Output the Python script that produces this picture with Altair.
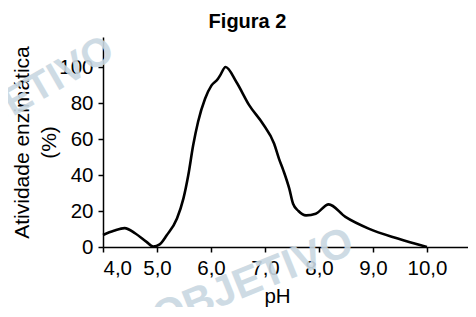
import altair as alt
import pandas as pd

ph = [4.0, 4.2, 4.4, 4.6, 4.8, 4.93, 5.05, 5.18, 5.37, 5.49, 5.58, 5.67, 5.76, 5.89,
      6.01, 6.13, 6.17, 6.27, 6.47, 6.71, 6.96, 7.17, 7.26, 7.34, 7.45, 7.52, 7.62,
      7.76, 7.94, 8.18, 8.49, 8.92, 9.46, 10.0]
atividade = [6.7, 9.0, 10.5, 7.5, 3.0, 0.3, 1.5, 6.5, 15.8, 27.0, 40.0, 56.5, 69.5,
             82.4, 89.8, 93.5, 95.4, 100.0, 91.7, 78.7, 68.5, 57.4, 49.0, 42.6, 32.4,
             24.0, 20.0, 17.6, 18.5, 23.7, 16.7, 10.2, 4.7, 0.0]
x_ticks = [4.0, 5.0, 6.0, 7.0, 8.0, 9.0, 10.0]
y_ticks = [0, 20, 40, 60, 80, 100]

df = pd.DataFrame({"ph": ph, "atividade": atividade})

W, H = 365, 210
FONT = "Liberation Sans"
WM = "#c9d8e2"

line = alt.Chart(df).mark_line(color="black", strokeWidth=2.6, interpolate="monotone").encode(
    x=alt.X("ph:Q",
            scale=alt.Scale(domain=[4, 10.76], nice=False, zero=False),
            axis=alt.Axis(values=x_ticks,
                          labelExpr="replace(format(datum.value, '.1f'), '.', ',')",
                          title="pH", titleFontWeight="normal", titleFontSize=20.5,
                          titleFont=FONT, titleColor="black",
                          titleX=174, titleY=55, titleBaseline="alphabetic",
                          labelFontSize=20.5, labelFont=FONT, labelColor="black",
                          labelPadding=6, tickSize=5, tickColor="black", tickWidth=1.5,
                          domainColor="black", domainWidth=1.5, grid=False,
                          labelOverlap=False)),
    y=alt.Y("atividade:Q",
            scale=alt.Scale(domain=[0, 116.7], nice=False),
            axis=alt.Axis(values=y_ticks,
                          title=["Atividade enzimática", "(%)"],
                          titleFontWeight="normal", titleFontSize=21,
                          titleFont=FONT, titleColor="black",
                          titleX=-92, titleBaseline="top", titleLineHeight=27,
                          titleAngle=270,
                          labelFontSize=20.5, labelFont=FONT, labelColor="black",
                          labelPadding=5, tickSize=5, tickColor="black", tickWidth=1.5,
                          domainColor="black", domainWidth=1.5, grid=False,
                          labelOverlap=False)),
)

wm_df = pd.DataFrame({"t": ["OBJETIVO"]})
wm1 = alt.Chart(wm_df).mark_text(font=FONT, fontWeight="bold", fontSize=42, color=WM,
                                 angle=338, opacity=0.9).encode(
    text="t:N", x=alt.value(150), y=alt.value(243))
wm2 = alt.Chart(wm_df).mark_text(font=FONT, fontWeight="bold", fontSize=40, color=WM,
                                 angle=330, opacity=0.9).encode(
    text="t:N", x=alt.value(-80), y=alt.value(60))

chart = alt.layer(wm1, wm2, line).properties(
    width=W, height=H,
    title=alt.TitleParams("Figura 2", fontSize=20, fontWeight="bold", font=FONT,
                          color="black", anchor="middle", frame="group", dx=-38, offset=-3),
    autosize=alt.AutoSizeParams(type="none"),
    padding={"left": 95, "top": 29, "right": 0, "bottom": 60},
).configure_view(stroke=None)

chart.save("out.html", embed_options={"renderer": "svg", "actions": False})
